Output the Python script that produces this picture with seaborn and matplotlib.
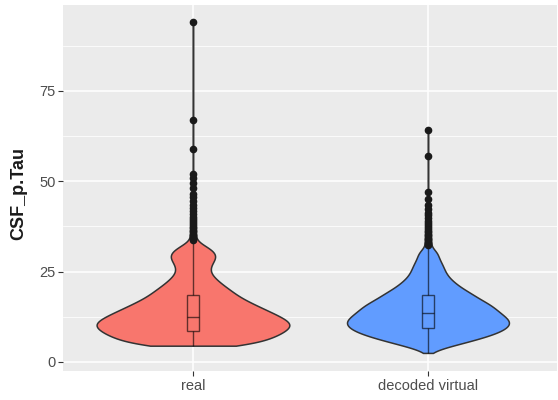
import numpy as np
import pandas as pd
import matplotlib
matplotlib.use("Agg")
import matplotlib.pyplot as plt
import seaborn as sns

# groups and fill colours (ggplot defaults)
groups = ["real", "decoded virtual"]
colors = ["#F8766D", "#619CFF"]

# sample counts per 1-unit bin
real_levels = [4.5, 5.5, 6.5, 7.5, 8.5, 9.5, 10.5, 11.5, 12.5, 13.5, 14.5, 15.5, 16.5, 17.5, 18.5,
               19.5, 20.5, 21.5, 22.5, 23.5, 24.5, 25.5, 26.5, 27.5, 28.5, 29.5, 30.5, 31.5, 32.5]
real_counts = [55, 65, 75, 83, 89, 94, 96, 91, 85, 77, 70, 62, 55, 48, 42,
               38, 33, 28, 24, 20, 17, 16, 17, 19, 22, 23, 21, 16, 9]
# single high values (outliers)
real_tail = [33.2, 33.6, 34.0, 34.3, 34.7, 35.0, 35.4, 35.8, 36.1, 36.5, 37.0, 37.4, 38.0, 38.5,
             39.0, 39.6, 40.2, 41.0, 41.8, 42.5, 43.5, 44.5, 45.5, 46.5, 48.0, 49.5, 51.0, 52.0,
             59.0, 67.0, 94.0]

virtual_levels = [2.5, 3.5, 4.5, 5.5, 6.5, 7.5, 8.5, 9.5, 10.5, 11.5, 12.5, 13.5, 14.5, 15.5, 16.5,
                  17.5, 18.5, 19.5, 20.5, 21.5, 22.5, 23.5, 24.5, 25.5, 26.5, 27.5, 28.5, 29.5, 30.5]
virtual_counts = [2, 10, 24, 38, 51, 63, 72, 78, 81, 80, 76, 71, 67, 63, 57,
                  50, 45, 39, 33, 28, 24, 20, 18, 16, 15, 13, 11, 10, 9]
virtual_tail = [31.0, 31.3, 31.6, 32.0, 32.3, 32.6, 33.0, 33.3, 33.6, 34.0, 34.3, 34.7, 35.0, 35.4,
                35.8, 36.2, 36.7, 37.2, 37.8, 38.4, 39.0, 39.7, 40.5, 41.3, 42.2, 43.4, 45.0, 47.0,
                57.0, 64.0]

real = np.concatenate([np.repeat(real_levels, real_counts), real_tail])
virtual = np.concatenate([np.repeat(virtual_levels, virtual_counts), virtual_tail])
df = pd.DataFrame({
    "group": ["real"] * len(real) + ["decoded virtual"] * len(virtual),
    "CSF_p.Tau": np.concatenate([real, virtual]),
})

plt.rcParams["font.family"] = ["Liberation Sans", "DejaVu Sans"]

fig = plt.figure(figsize=(5.58, 4), dpi=100)
ax = fig.add_axes([63 / 558, 1 - 371 / 400, 494 / 558, 366 / 400])
ax.set_facecolor("#EBEBEB")
for s in ax.spines.values():
    s.set_visible(False)

sns.violinplot(data=df, x="group", y="CSF_p.Tau", order=groups, hue="group", hue_order=groups,
               palette=colors, legend=False, saturation=1, cut=0, bw_adjust=0.6, gridsize=400,
               density_norm="count", common_norm=True, width=0.82, inner=None, linewidth=1.1,
               linecolor="#333333", ax=ax)
sns.boxplot(data=df, x="group", y="CSF_p.Tau", order=groups, hue="group", hue_order=groups,
            palette=colors, legend=False, saturation=1, width=0.05, linewidth=1.0,
            linecolor=(0, 0, 0, 0.6), fliersize=4.5, showcaps=False,
            flierprops=dict(marker="o", markerfacecolor="#1a1a1a", markeredgecolor="#1a1a1a"),
            ax=ax)

ax.set_xlim(-0.553, 1.549)
ax.set_ylim(-2.5, 98.7)
ax.set_yticks([0, 25, 50, 75])
ax.set_yticks([12.5, 37.5, 62.5, 87.5], minor=True)
ax.grid(which="major", color="white", linewidth=1.1)
ax.grid(which="minor", axis="y", color="white", linewidth=0.55)
ax.set_axisbelow(True)
ax.tick_params(which="major", length=3.5, width=0.8, color="#333333",
               labelcolor="#4D4D4D", labelsize=10.5, pad=2)
ax.tick_params(which="minor", length=0)

ax.set_xlabel("")
ax.set_ylabel("CSF_p.Tau", fontsize=13, fontweight="bold", color="#1a1a1a")
ax.yaxis.set_label_coords(-0.073, 0.485)

fig.savefig("out.png", dpi=100)
